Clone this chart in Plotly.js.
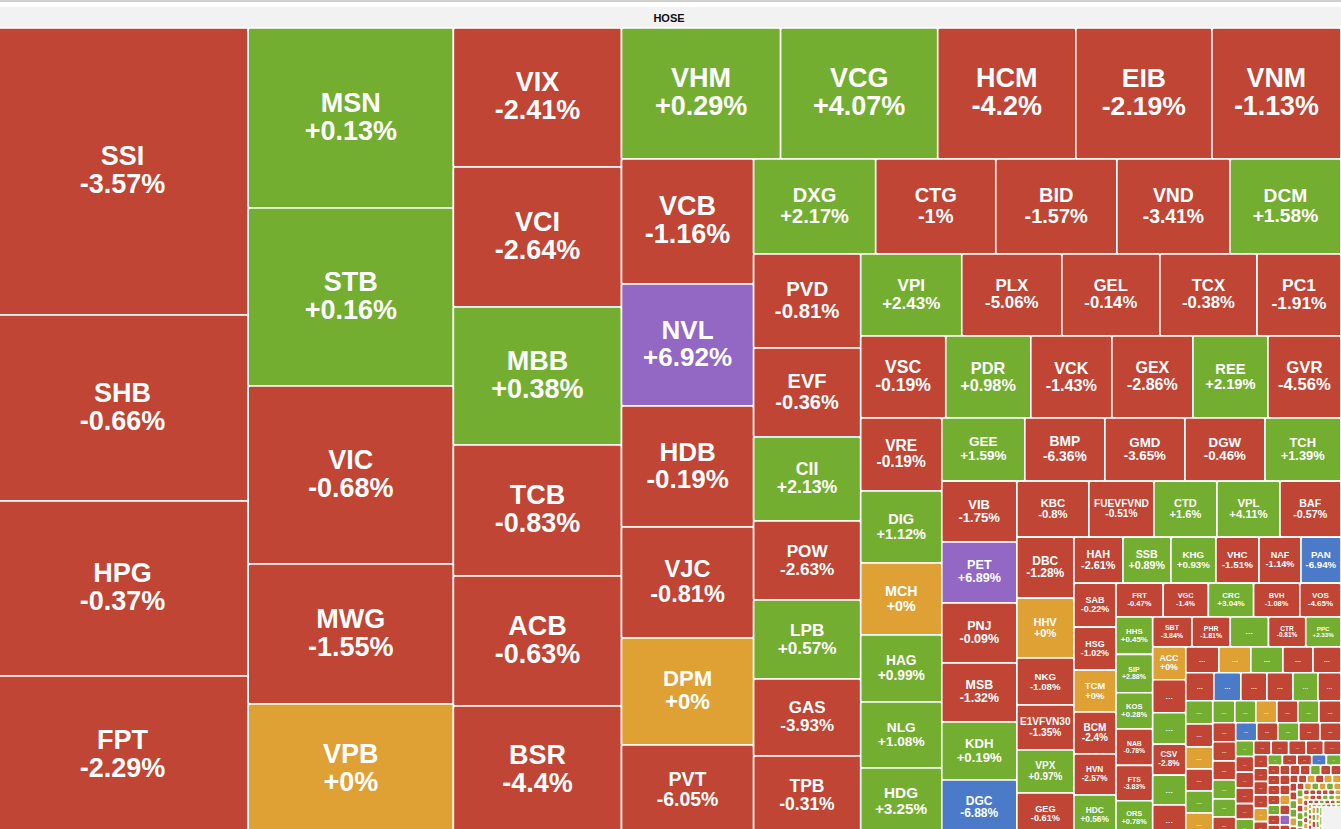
<!DOCTYPE html>
<html><head><meta charset="utf-8">
<script src="https://cdn.plot.ly/plotly-3.0.1.min.js"></script>
<style>
html,body{margin:0;padding:0;background:#fff;overflow:hidden;width:1341px;height:829px}
#topline{position:absolute;left:0;top:0;width:1341px;height:2px;background:#d0d0d0;z-index:5}
#chart{position:absolute;left:-3px;top:0;width:1344px;height:835px}
</style></head><body>
<div id="topline"></div><div id="chart"></div>
<script>
const rootName = "HOSE";
const tickers = ["SSI","SHB","HPG","FPT","MSN","STB","VIC","MWG","VPB","VIX","VCI","MBB","TCB","ACB","BSR","VHM","VCG","HCM","EIB","VNM","VCB","NVL","HDB","VJC","DPM","PVT","DXG","CTG","BID","VND","DCM","PVD","EVF","CII","POW","LPB","GAS","TPB","VPI","PLX","GEL","TCX","PC1","VSC","PDR","VCK","GEX","REE","GVR","VRE","DIG","MCH","HAG","NLG","HDG","GEE","BMP","GMD","DGW","TCH","VIB","PET","PNJ","MSB","KDH","DGC","KBC","FUEVFVND","CTD","VPL","BAF","DBC","HHV","NKG","E1VFVN30","VPX","GEG","HAH","SSB","KHG","VHC","NAF","PAN","SAB","HSG","TCM","BCM","HVN","HDC","FRT","VGC","CRC","BVH","VOS","HHS","SIP","KOS","NAB","FTS","ORS","SBT","PHR","…","CTR","PPC","ACC","…","…","CSV","…","…"];
const changes = ["-3.57%","-0.66%","-0.37%","-2.29%","+0.13%","+0.16%","-0.68%","-1.55%","+0%","-2.41%","-2.64%","+0.38%","-0.83%","-0.63%","-4.4%","+0.29%","+4.07%","-4.2%","-2.19%","-1.13%","-1.16%","+6.92%","-0.19%","-0.81%","+0%","-6.05%","+2.17%","-1%","-1.57%","-3.41%","+1.58%","-0.81%","-0.36%","+2.13%","-2.63%","+0.57%","-3.93%","-0.31%","+2.43%","-5.06%","-0.14%","-0.38%","-1.91%","-0.19%","+0.98%","-1.43%","-2.86%","+2.19%","-4.56%","-0.19%","+1.12%","+0%","+0.99%","+1.08%","+3.25%","+1.59%","-6.36%","-3.65%","-0.46%","+1.39%","-1.75%","+6.89%","-0.09%","-1.32%","+0.19%","-6.88%","-0.8%","-0.51%","+1.6%","+4.11%","-0.57%","-1.28%","+0%","-1.08%","-1.35%","+0.97%","-0.61%","-2.61%","+0.89%","+0.93%","-1.51%","-1.14%","-6.94%","-0.22%","-1.02%","+0%","-2.4%","-2.57%","+0.56%","-0.47%","-1.4%","+3.04%","-1.08%","-4.65%","+0.45%","+2.88%","+0.28%","-0.78%","-3.83%","+0.78%","-3.84%","-1.81%","","-0.81%","+2.33%","+0%","","","-2.8%","",""];
const values = [72037,46686,43925,39909,36900,36490,36490,28700,26855,23352,23520,23184,22008,21840,21672,20829,20567,18078,17816,16899,16500,16104,15972,14652,14124,11880,11590,11400,11495,10735,10545,10058,9523,8988,8453,8453,8239,8453,8282,8200,8036,7954,6888,6970,6970,6642,6642,6150,5986,5913,5832,5832,5427,5346,5427,5229,5040,5040,5040,4788,4575,4575,4500,4425,4350,4125,4032,3640,3528,3528,3416,3477,3420,2679,2565,2451,2394,2254,2208,2070,1978,1932,1840,1848,1806,1764,1764,1722,1680,1598,1530,1530,1564,1394,1369,1406,1332,1332,1295,1258,1170,1140,1140,1110,1050,1089,1089,1040,1023,990,990];
const fontSizes = [27,27,27,27, 27,27,27,27,27, 27,27,27,27,27,27, 27,27,27,26.6,26.8, 27,26,26,23.6,22.2,19.5, 20.1,20,20,19.4,19.2, 20.4,20,17.7,17.2,17.2,17,17.5, 17,16.9,16.7,16.7,17.4, 17.6,16.3,16.2,16,14.7,16.7, 15.6,14.5,14.3,13.8,13.7,15.3, 13.5,13.8,13.3,13.3,12.9, 13,12.6,12.5,12.4,13.2,12, 11.3,10.2,11.1,11.4,10.7, 12,11,9.7,10.3,10,9.2, 10.9,10.7,9.7,9.8,9.1,9.7, 9,8.9,9.5,10,8.2,8.3, 7.5,7.3,8,7.4,8, 7.9,7,7.6,6.8,6.9,7.4, 7,6.9,8,6.5,6.2, 8.8,8,8,8.2,8,8];
const namedBlanks = ["g","r","g","g","r"];
// tiles too small to carry a name in the picture: tone and estimated size only
const tailTones = "rogrr rbrrgr grorgo ggorgr rrrggr brgrr grrrrg rrrrr rrrror grrbg rrrrgrr rrrgrr rrorpr rroroo rrggor rogogo gorggr rrrrro orrggo rogrog rrgrrg ogrorg gogrgo ogrr gogr ggo".replace(/\s/g,"").split("");
const tailValues = [858,832,832,780,728, 784,756,728,728,700,644, 621,621,594,594,594,594, 484,462,462,462,462,484, 437,437,437,437,414,414, 378,378,378,378,378, 283,283,283,283,283,283, 244,244,244,244,244, 187,187,187,187,187,187, 153,153,153,153,153, 120,120,120,120,120,120,120, 100,100,100,100,100,100, 100,100,100,100,100,100, 68,68,68,68,68,68, 62,62,62,62,62,62, 50,50,50,50,50,50, 48,48,48,48,48,48, 33,33,33,33,33,33, 30,30,30,30,30,30, 28,28,28,28,28,28, 23,23,23,23,23,23, 19,19,19,19,19,19, 14,14,14,14,14,14, 28,28,28,28, 26,26,26,26, 24,24,24];
// band order of the layout: C = column of tiles at the left of what remains, R = row at its top
const bands = ["C4","C5","C6","R5","C6","R5","C7","R5","R6","C6","R5","C6","R5","C6","R6","C6","R5","C6","R5","C6","R5","R6","C6","R6","C6","R5","C6","R5","C6","R5","C7","R6","C6","R6","C6","R6","C6","R6","R6","C6","R6","C6","R6","C4","C4","C3"];
const emptyTail = 530;
const toneColor = {r:"#c04534",g:"#74ae30",o:"#e0a134",p:"#9268c4",b:"#4b7bc8",e:"#f2f2f2"};

function toneOf(ch){
  const n = parseFloat(ch);
  if(n === 0) return "o";
  if(n >= 6.8) return "p";
  if(n <= -6.8) return "b";
  return n > 0 ? "g" : "r";
}
const clear="rgba(0,0,0,0)";
const A={ids:[],labels:[],parents:[],values:[],text:[],colors:[],sizes:[],fontColors:[],lines:[]};
function node(id,parent,label,text,val,color,size,fc,line){
  A.ids.push(id);A.parents.push(parent);A.labels.push(label);A.text.push(text);A.values.push(val);
  A.colors.push(color);A.sizes.push(size);A.fontColors.push(fc);A.lines.push(line);
}
function group(id,parent){node(id,parent," ","",0,clear,1,"#fff",0);}
const all=[];
let blank=0;
tickers.forEach((t,i)=>all.push({label:t,text:changes[i],val:values[i],size:fontSizes[i],tone:changes[i]?toneOf(changes[i]):namedBlanks[blank++]}));
tailValues.forEach((v,i)=>all.push({label:"…",text:"",val:v,size:0.234*Math.sqrt(v),tone:tailTones[i]||"r"}));
const bodySum=all.reduce((s,d)=>s+d.val,0)+emptyTail;

group("root","");
node("header","root",rootName,"",bodySum*21/807,"#f2f2f2",11,"#111",0);
group("body","root");
let cur="body", curIsCols=true, g=0, k=0;
bands.forEach(b=>{
  const kind=b[0], n=+b.slice(1);
  const wantCols=kind==="C";
  if(wantCols!==curIsCols){const r="rem"+(g++);group(r,cur);cur=r;curIsCols=wantCols;}
  const band="band"+(g++);group(band,cur);
  for(let i=0;i<n;i++,k++){
    const d=all[k];
    node("tile"+k,band,d.label,d.text,d.val,toneColor[d.tone],d.size,"#fff",1.6);
  }
});
node("emptyTail",cur," ","",emptyTail,"#f2f2f2",1,"#fff",0);

const trace={type:"treemap",ids:A.ids,labels:A.labels,parents:A.parents,values:A.values,text:A.text,
  branchvalues:"remainder",sort:false,textinfo:"label+text",textposition:"middle center",maxdepth:-1,
  textfont:{family:"Liberation Sans, Arial, sans-serif",size:A.sizes,color:A.fontColors,weight:700},
  leaf:{opacity:1},
  marker:{colors:A.colors,line:{color:"#fff",width:A.lines},pad:{t:0,l:0,r:0,b:0},cornerradius:2,depthfade:false},
  tiling:{packing:"dice-slice",pad:0},pathbar:{visible:false},hoverinfo:"skip"};
const layout={width:1344,height:835,margin:{l:0,r:0,t:7,b:0},paper_bgcolor:"#fff",showlegend:false,
  font:{family:"Liberation Sans, Arial, sans-serif"}};
function tight(){
  document.querySelectorAll("#chart text.slicetext, #chart g.slicetext text").forEach(t=>{
    if(!t.textContent.trim()){t.remove();return;}
    const ls=t.querySelectorAll("tspan.line");
    if(ls.length===2){ls[0].setAttribute("dy","0.08em");ls[1].setAttribute("dy","1.12em");}
  });
}
Plotly.newPlot("chart",[trace],layout,{displayModeBar:false}).then(gd=>{tight();gd.on("plotly_afterplot",tight);});
</script></body></html>
